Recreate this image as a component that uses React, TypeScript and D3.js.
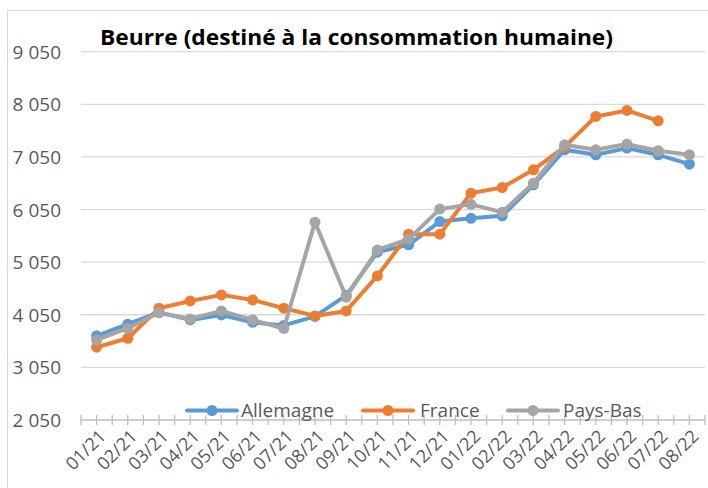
import React from "react";
import * as d3 from "d3";

const categories = ["01/21","02/21","03/21","04/21","05/21","06/21","07/21","08/21","09/21","10/21","11/21","12/21","01/22","02/22","03/22","04/22","05/22","06/22","07/22","08/22"];
const allemagne = [3650,3870,4095,3952,4047,3908,3847,4019,4418,5240,5379,5822,5883,5930,6520,7185,7090,7218,7090,6913];
const france: (number|null)[] = [3433,3604,4175,4313,4428,4332,4175,4028,4123,4789,5582,5582,6362,6468,6805,7242,7819,7933,7737,null];
const paysBas = [3572,3794,4091,3971,4123,3952,3790,5810,4384,5283,5487,6058,6149,6000,6552,7281,7185,7294,7166,7090];
const yTicks = [2050,3050,4050,5050,6050,7050,8050,9050];
const seriesNames = ["Allemagne","France","Pays-Bas"];
const seriesColors = ["#5B9BD5","#ED7D31","#A5A5A5"];
const title = "Beurre (destiné à la consommation humaine)";

const fmt = (v: number) => {
  const s = String(v);
  return s.length > 3 ? s.slice(0, s.length - 3) + " " + s.slice(-3) : s;
};

export default function App() {
  const W = 708, H = 488;
  const x = d3.scaleBand<string>().domain(categories).range([81, 705]);
  const y = d3.scaleLinear().domain([2050, 9050]).range([420, 51.7]);
  const cx = (c: string) => (x(c) as number) + x.bandwidth() / 2;
  const series = [allemagne, france, paysBas];
  const line = d3.line<{c: string; v: number | null}>()
    .defined(d => d.v != null)
    .x(d => cx(d.c))
    .y(d => y(d.v as number));
  const font = "'Open Sans', sans-serif";
  const halfTicks: number[] = [];
  for (let i = 0; i <= categories.length * 2; i++) halfTicks.push(81 + (i * x.bandwidth()) / 2);
  const legendItems = [
    { x0: 187, tx: 241 },
    { x0: 363, tx: 420 },
    { x0: 508, tx: 563 },
  ];
  return (
    <div style={{ position: "absolute", left: 0, top: 0 }}>
      <svg width={W} height={H} style={{ display: "block", fontFamily: font }}>
        <rect x={0} y={0} width={W} height={H} fill="#fff" />
        <rect x={7.5} y={10.5} width={720} height={500} fill="none" stroke="#d9d9d9" />
        {yTicks.map(t => (
          <g key={t}>
            <line x1={81} x2={705} y1={y(t)} y2={y(t)} stroke={t === 2050 ? "#bfbfbf" : "#d9d9d9"} strokeWidth={1.3} />
            <text x={61} y={y(t) + 7} textAnchor="end" fontSize={19} fill="#595959">{fmt(t)}</text>
          </g>
        ))}
        {halfTicks.map((tx, i) => (
          <line key={i} x1={tx} x2={tx} y1={415} y2={425} stroke="#bfbfbf" strokeWidth={1.3} />
        ))}
        {categories.map(c => (
          <text key={c} transform={`translate(${cx(c) + 6},${433}) rotate(-45)`} textAnchor="end" fontSize={18} fill="#595959" dy="0.35em">{c}</text>
        ))}
        <text x={100} y={45} fontSize={21} fontWeight="bold" fill="#000" textLength={513} lengthAdjust="spacingAndGlyphs">{title}</text>
        {series.map((s, si) => {
          const pts = categories.map((c, i) => ({ c, v: s[i] as number | null }));
          return (
            <g key={si}>
              <path d={line(pts) as string} fill="none" stroke={seriesColors[si]} strokeWidth={4} strokeLinejoin="round" strokeLinecap="round" />
              {pts.filter(p => p.v != null).map(p => (
                <circle key={p.c} cx={cx(p.c)} cy={y(p.v as number)} r={5.5} fill={seriesColors[si]} />
              ))}
            </g>
          );
        })}
        {seriesNames.map((n, i) => (
          <g key={n}>
            <line x1={legendItems[i].x0} x2={legendItems[i].x0 + 50} y1={410.5} y2={410.5} stroke={seriesColors[i]} strokeWidth={4} strokeLinecap="round" />
            <circle cx={legendItems[i].x0 + 25} cy={410.5} r={5.5} fill={seriesColors[i]} />
            <text x={legendItems[i].tx} y={417} fontSize={19} fill="#595959">{n}</text>
          </g>
        ))}
      </svg>
    </div>
  );
}
